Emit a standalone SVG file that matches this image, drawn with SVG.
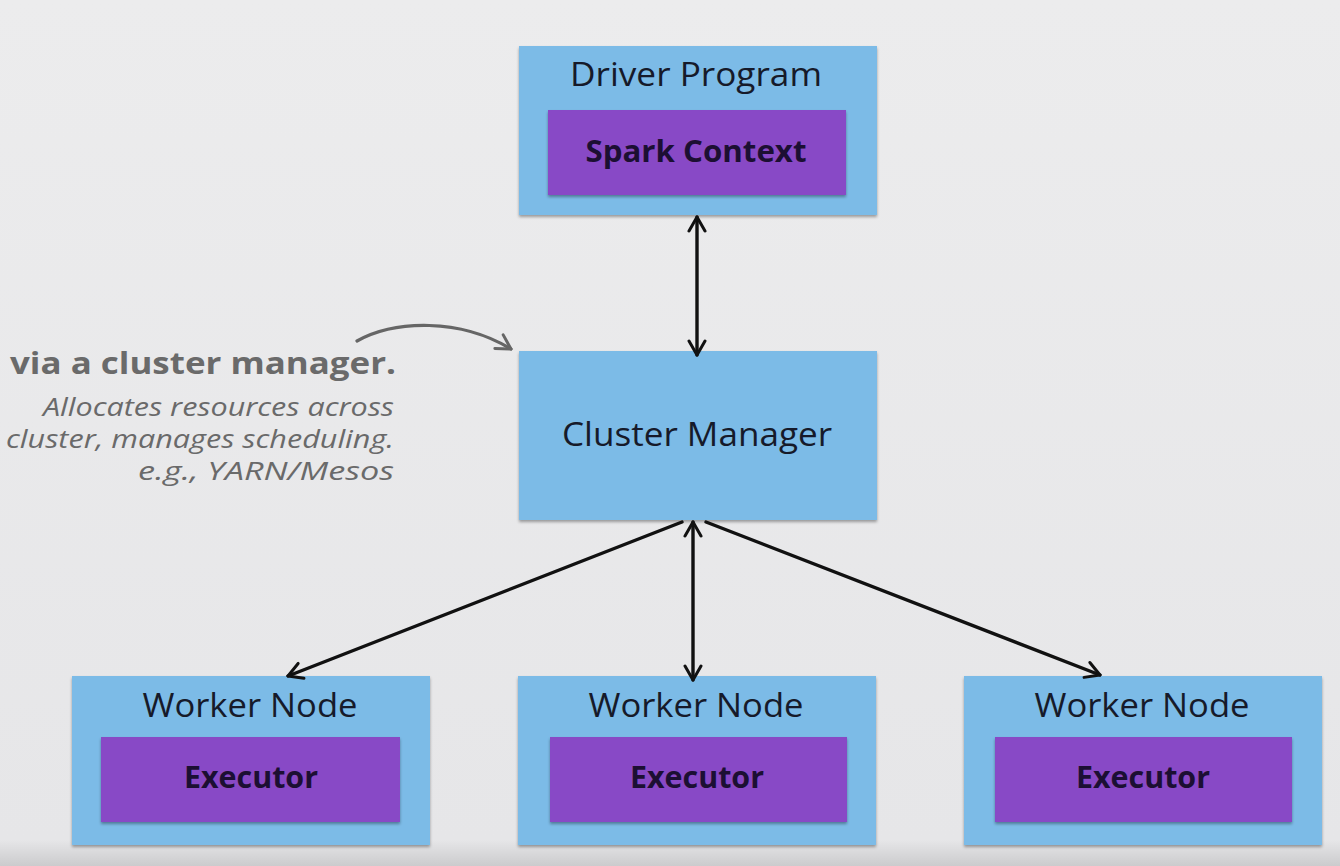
<svg xmlns="http://www.w3.org/2000/svg" width="1340" height="866" viewBox="0 0 1340 866">
<defs>
<linearGradient id="bg" x1="0" y1="0" x2="0" y2="1">
<stop offset="0" stop-color="#ececed"/>
<stop offset="0.97" stop-color="#e6e6e8"/>
<stop offset="1" stop-color="#cbcbcd"/>
</linearGradient>
<filter id="sh" x="-5%" y="-5%" width="110%" height="115%">
<feDropShadow dx="0" dy="2" stdDeviation="1.5" flood-color="#000" flood-opacity="0.35"/>
</filter>
<marker id="ah" viewBox="0 0 20 20" refX="17" refY="10" markerWidth="20" markerHeight="20" markerUnits="userSpaceOnUse" orient="auto-start-reverse">
<path d="M3,2 L17,10 L3,18" fill="none" stroke="#111" stroke-width="3" stroke-linecap="round" stroke-linejoin="round"/>
</marker>
<marker id="ahg" viewBox="0 0 20 20" refX="17" refY="10" markerWidth="20" markerHeight="20" markerUnits="userSpaceOnUse" orient="auto">
<path d="M3,2 L17,10 L3,18" fill="none" stroke="#666" stroke-width="3" stroke-linecap="round" stroke-linejoin="round"/>
</marker>
</defs>
<style>
.outer{fill:#7cbbe7;filter:url(#sh)}
.inner{fill:#8848c6;filter:url(#sh)}
.t{font-family:"Open Sans","DejaVu Sans",sans-serif;fill:#161a2a;text-anchor:middle}
.title{font-size:33px}
.sub{font-size:30px;font-weight:bold;fill:#1c0f33}
.conn{stroke:#111;stroke-width:3.4;fill:none;stroke-linecap:round}
.note{font-family:"Open Sans","DejaVu Sans",sans-serif;fill:#6a6a6a;text-anchor:end}
</style>
<rect width="1340" height="866" fill="url(#bg)"/>

<g id="driver">
<rect class="outer" x="519" y="46" width="358" height="169"/>
<text class="t title" x="696" y="86" textLength="252" lengthAdjust="spacingAndGlyphs">Driver Program</text>
<rect class="inner" x="548" y="110" width="298" height="85"/>
<text class="t sub" x="696" y="162" textLength="221" lengthAdjust="spacingAndGlyphs">Spark Context</text>
</g>

<g id="cluster-manager">
<rect class="outer" x="519" y="351" width="358" height="169"/>
<text class="t title" x="697" y="446" textLength="270" lengthAdjust="spacingAndGlyphs">Cluster Manager</text>
</g>

<g id="worker1">
<rect class="outer" x="72" y="676" width="358" height="169"/>
<text class="t title" x="250" y="717" textLength="215" lengthAdjust="spacingAndGlyphs">Worker Node</text>
<rect class="inner" x="101" y="737" width="299" height="85"/>
<text class="t sub" x="251" y="788" textLength="134" lengthAdjust="spacingAndGlyphs">Executor</text>
</g>

<g id="worker2">
<rect class="outer" x="518" y="676" width="358" height="169"/>
<text class="t title" x="696" y="717" textLength="215" lengthAdjust="spacingAndGlyphs">Worker Node</text>
<rect class="inner" x="550" y="737" width="297" height="85"/>
<text class="t sub" x="697" y="788" textLength="134" lengthAdjust="spacingAndGlyphs">Executor</text>
</g>

<g id="worker3">
<rect class="outer" x="964" y="676" width="358" height="169"/>
<text class="t title" x="1142" y="717" textLength="215" lengthAdjust="spacingAndGlyphs">Worker Node</text>
<rect class="inner" x="995" y="737" width="297" height="85"/>
<text class="t sub" x="1143" y="788" textLength="134" lengthAdjust="spacingAndGlyphs">Executor</text>
</g>

<g id="note">
<text class="note" x="396" y="374" font-size="31" font-weight="bold" textLength="386" lengthAdjust="spacingAndGlyphs">via a cluster manager.</text>
<text class="note" x="394" y="416" font-size="25" font-style="italic" textLength="351" lengthAdjust="spacingAndGlyphs">Allocates resources across</text>
<text class="note" x="394" y="448" font-size="25" font-style="italic" textLength="388" lengthAdjust="spacingAndGlyphs">cluster, manages scheduling.</text>
<text class="note" x="394" y="480" font-size="25" font-style="italic" textLength="256" lengthAdjust="spacingAndGlyphs">e.g., YARN/Mesos</text>
</g>

<g id="connectors">
<path class="conn" d="M697,217 L697,355" marker-start="url(#ah)" marker-end="url(#ah)"/>
<path class="conn" d="M693,522 L693,680" marker-start="url(#ah)" marker-end="url(#ah)"/>
<path class="conn" d="M682,522 L288,676" marker-end="url(#ah)"/>
<path class="conn" d="M706,522 L1100,675" marker-end="url(#ah)"/>
<path d="M357,341 C395,320 460,318 511,349" stroke="#666" stroke-width="3.2" fill="none" stroke-linecap="round" marker-end="url(#ahg)"/>
</g>
</svg>
